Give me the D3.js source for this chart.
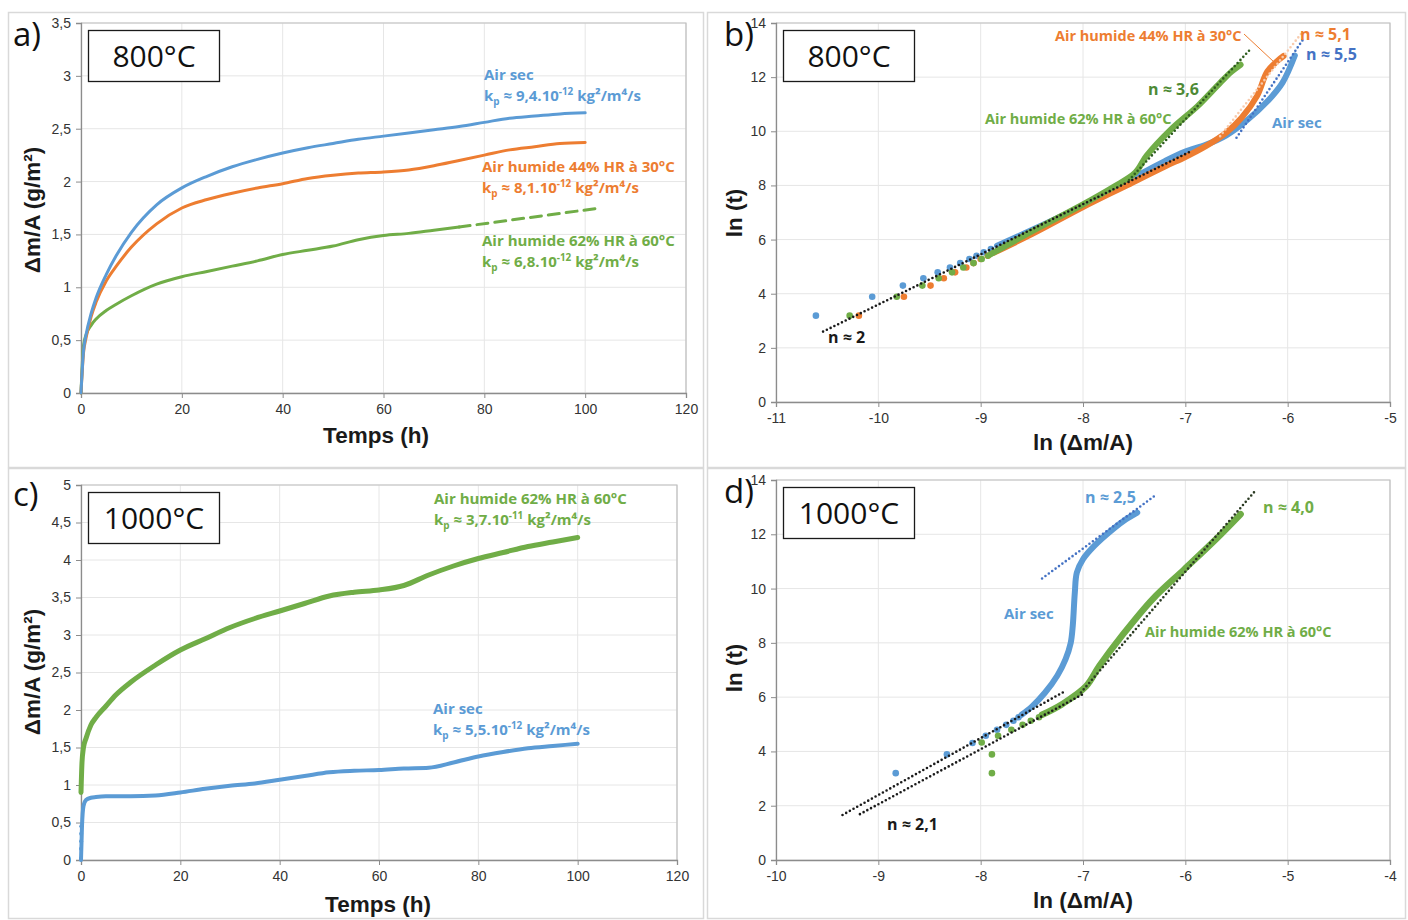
<!DOCTYPE html>
<html><head><meta charset="utf-8">
<script src="https://cdn.jsdelivr.net/npm/d3@7/dist/d3.min.js"></script>
<style>
html,body{margin:0;padding:0;background:#fff;}
svg{display:block;}
</style></head>
<body>
<svg id="chart" width="1408" height="920"></svg>
<script>
// ---------------- DATA ----------------
// Panel a) 800°C : mass gain vs time (h)
const aTime   = [0,0.5,1,2,3,5,7,10,15,20,25,30,35,40,45,50,55,60,65,70,75,80,85,90,95,100];
const aSec    = [0,0.40,0.55,0.75,0.90,1.12,1.30,1.52,1.78,1.94,2.05,2.14,2.21,2.27,2.32,2.36,2.40,2.43,2.46,2.49,2.52,2.56,2.60,2.62,2.64,2.65];
const aHum44  = [0,0.38,0.52,0.72,0.86,1.06,1.20,1.38,1.60,1.75,1.83,1.89,1.94,1.98,2.03,2.06,2.08,2.09,2.11,2.15,2.20,2.25,2.30,2.33,2.36,2.37];
const aTimeG  = [0,0.5,1,2,3,5,7,10,15,20,25,30,35,40,45,50,55,60,65,70,75];
const aHum62  = [0,0.45,0.55,0.64,0.70,0.78,0.84,0.92,1.03,1.10,1.15,1.20,1.25,1.31,1.35,1.39,1.45,1.49,1.51,1.54,1.57];
const aHum62Ext = [[75,1.57],[103,1.75]];

// Panel b) 800°C : ln(t) vs ln(Δm/A)  [x = ln(Δm/A), y = ln(t)]
const bSecDots  = [[-10.61,3.19],[-10.06,3.89],[-9.76,4.30],[-9.56,4.57],[-9.42,4.79],[-9.30,4.97],[-9.20,5.13],[-9.11,5.28],[-9.04,5.40],[-8.97,5.53],[-8.90,5.65]];
const bSecCurve = [[-8.84,5.77],[-8.5,6.35],[-8.0,7.25],[-7.6,8.05],[-7.4,8.5],[-7.2,8.9],[-7.0,9.25],[-6.8,9.5],[-6.6,9.85],[-6.4,10.4],[-6.2,11.1],[-6.05,11.8],[-5.93,12.8]];
const b44Dots   = [[-10.19,3.19],[-9.75,3.89],[-9.49,4.30],[-9.36,4.57],[-9.25,4.79],[-9.14,4.97],[-9.07,5.13],[-9.00,5.28],[-8.93,5.40]];
const b44Curve  = [[-8.88,5.5],[-8.5,6.2],[-8.0,7.2],[-7.6,7.95],[-7.2,8.7],[-7.0,9.05],[-6.8,9.45],[-6.6,9.95],[-6.45,10.5],[-6.3,11.3],[-6.2,12.2],[-6.1,12.6],[-6.04,12.78]];
const b62Dots   = [[-10.28,3.19],[-9.82,3.89],[-9.57,4.30],[-9.41,4.57],[-9.28,4.79],[-9.17,4.97],[-9.07,5.13],[-8.99,5.28]];
const b62Curve  = [[-8.93,5.4],[-8.5,6.3],[-8.0,7.3],[-7.7,7.95],[-7.49,8.47],[-7.38,9.09],[-7.14,10.07],[-6.88,10.93],[-6.66,11.79],[-6.55,12.2],[-6.46,12.46]];
const bFitN2    = [[-10.54,2.60],[-6.94,9.27]];
const bFitN36   = [[-7.55,8.2],[-6.36,13.05]];
const bFitN51   = [[-6.66,9.82],[-5.85,13.69]];
const bFitN55   = [[-6.50,9.76],[-5.85,13.39]];

// Panel c) 1000°C : mass gain vs time (h)
const cTime   = [0,0.2,0.5,1,2,3,5,7,10,15,20,25,30,35,40,45,50,55,60,65,70,75,80,85,90,95,100];
const cHum62  = [0.9,1.3,1.5,1.62,1.8,1.9,2.05,2.2,2.37,2.6,2.8,2.95,3.1,3.22,3.32,3.42,3.52,3.57,3.6,3.66,3.8,3.92,4.02,4.1,4.18,4.24,4.3];
const cSec    = [0,0.45,0.72,0.8,0.83,0.84,0.85,0.85,0.85,0.86,0.9,0.95,0.99,1.02,1.07,1.12,1.17,1.19,1.2,1.22,1.23,1.3,1.38,1.44,1.49,1.52,1.55];
const cSecStartDots = [[0,0.02],[0,0.15],[0.02,0.25],[0.03,0.35],[0.05,0.45]];

// Panel d) 1000°C : ln(t) vs ln(Δm/A)
const dSecDots  = [[-8.83,3.20],[-8.33,3.89],[-8.08,4.31],[-7.95,4.58],[-7.84,4.80],[-7.75,4.98],[-7.68,5.13],[-7.63,5.26]];
const dSecCurve = [[-7.6,5.35],[-7.5,5.65],[-7.37,6.17],[-7.25,6.8],[-7.17,7.40],[-7.12,8.0],[-7.10,8.63],[-7.08,9.85],[-7.06,10.59],[-7.0,11.08],[-6.89,11.57],[-6.71,12.18],[-6.58,12.55],[-6.47,12.8]];
const d62Dots   = [[-7.89,3.20],[-7.89,3.89],[-7.99,4.33],[-7.83,4.58],[-7.70,4.80],[-7.59,4.98],[-7.51,5.13],[-7.43,5.26]];
const d62Curve  = [[-7.4,5.35],[-7.2,5.75],[-6.97,6.4],[-6.84,7.15],[-6.62,8.26],[-6.32,9.61],[-6.01,10.71],[-5.70,11.82],[-5.46,12.74]];
const dFitN21a  = [[-9.35,1.66],[-7.17,6.23]];
const dFitN21b  = [[-9.18,1.69],[-7.0,6.11]];
const dFitN25   = [[-7.40,10.37],[-6.28,13.47]];
const dFitN40   = [[-7.02,6.17],[-5.31,13.63]];

// Tick values
const timeTicks = [0,20,40,60,80,100,120];
const aYTicks = [0,0.5,1,1.5,2,2.5,3,3.5];
const cYTicks = [0,0.5,1,1.5,2,2.5,3,3.5,4,4.5,5];
const lnTTicks = [0,2,4,6,8,10,12,14];
const bXTicks = [-11,-10,-9,-8,-7,-6,-5];
const dXTicks = [-10,-9,-8,-7,-6,-5,-4];

// ---------------- STYLE ----------------
const BLUE="#5B9BD5", ORANGE="#ED7D31", GREEN="#70AD47", DKGREEN="#4E8A35", DKBLUE="#4472C4";
const LBL = "'Open Sans', sans-serif";
const AX  = "'Liberation Sans', Arial, sans-serif";

const svg = d3.select("#chart");
const fmt = d => String(d).replace(".", ",");

// panel frames
[[8,12,695,455],[707,12,698,455],[8,468,695,450],[707,468,698,450]].forEach(r=>{
  svg.append("rect").attr("x",r[0]+0.5).attr("y",r[1]+0.5).attr("width",r[2]).attr("height",r[3])
    .attr("fill","none").attr("stroke","#d9d9d9").attr("stroke-width",1.5);
});

function makePanel(o){
  const x = d3.scaleLinear().domain(o.xd).range([o.x0,o.x1]);
  const y = d3.scaleLinear().domain(o.yd).range([o.y0,o.y1]);
  const g = svg.append("g");
  g.append("g").selectAll("line").data(o.yt).join("line")
    .attr("x1",o.x0).attr("x2",o.x1).attr("y1",d=>y(d)).attr("y2",d=>y(d))
    .attr("stroke","#e6e6e6").attr("stroke-width",1);
  g.append("g").selectAll("line").data(o.xt).join("line")
    .attr("y1",o.y0).attr("y2",o.y1).attr("x1",d=>x(d)).attr("x2",d=>x(d))
    .attr("stroke","#e6e6e6").attr("stroke-width",1);
  g.append("path").attr("d",`M${o.x0},${o.y1}H${o.x1}V${o.y0}`).attr("fill","none").attr("stroke","#bfbfbf").attr("stroke-width",1.2);
  const xa = g.append("g").attr("transform",`translate(0,${o.y0})`)
    .call(d3.axisBottom(x).tickValues(o.xt).tickFormat(fmt).tickSize(5).tickPadding(6));
  const ya = g.append("g").attr("transform",`translate(${o.x0},0)`)
    .call(d3.axisLeft(y).tickValues(o.yt).tickFormat(fmt).tickSize(5).tickPadding(5));
  [xa,ya].forEach(a=>{
    a.select(".domain").attr("stroke","#8c8c8c").attr("stroke-width",1.3);
    a.selectAll(".tick line").attr("stroke","#8c8c8c");
    a.selectAll(".tick text").attr("fill","#333").attr("font-family",AX).attr("font-size",14);
  });
  svg.append("text").attr("x",o.xtx).attr("y",o.xty).attr("text-anchor","middle")
    .attr("font-family",AX).attr("font-weight","bold").attr("font-size",22.5).attr("fill","#1a1a1a").text(o.xTitle);
  svg.append("text").attr("transform",`translate(${o.ytx},${o.yty}) rotate(-90)`).attr("text-anchor","middle")
    .attr("font-family",AX).attr("font-weight","bold").attr("font-size",22.5).attr("fill","#1a1a1a").text(o.yTitle);
  svg.append("rect").attr("x",o.x0+7.5).attr("y",o.y1+7.5).attr("width",131).attr("height",51)
    .attr("fill","#fff").attr("stroke","#1a1a1a").attr("stroke-width",1.3);
  svg.append("text").attr("x",o.x0+73).attr("y",o.y1+44).attr("text-anchor","middle")
    .attr("font-family",LBL).attr("font-size",30).attr("fill","#111").text(o.temp);
  svg.append("text").attr("x",o.lx).attr("y",o.ly).attr("font-family",LBL).attr("font-size",33).attr("fill","#111").text(o.letter);
  return {x,y,g};
}

function line(p, pts, color, w, dash){
  const l = d3.line().x(d=>p.x(d[0])).y(d=>p.y(d[1])).curve(d3.curveMonotoneX);
  const path = svg.append("path").datum(pts).attr("d",l).attr("fill","none")
    .attr("stroke",color).attr("stroke-width",w).attr("stroke-linejoin","round").attr("stroke-linecap","round");
  if(dash) path.attr("stroke-dasharray",dash);
  return path;
}
function band(p, pts, color, w){
  const l = d3.line().x(d=>p.x(d[0])).y(d=>p.y(d[1])).curve(d3.curveCatmullRom);
  svg.append("path").datum(pts).attr("d",l).attr("fill","none")
    .attr("stroke",color).attr("stroke-width",w).attr("stroke-linejoin","round").attr("stroke-linecap","round");
}
function dots(p, pts, color, r){
  svg.append("g").selectAll("circle").data(pts).join("circle")
    .attr("cx",d=>p.x(d[0])).attr("cy",d=>p.y(d[1])).attr("r",r).attr("fill",color);
}
function fit(p, pts, color){
  svg.append("path").datum(pts).attr("d",d3.line().x(d=>p.x(d[0])).y(d=>p.y(d[1])))
    .attr("fill","none").attr("stroke",color).attr("stroke-width",2.6)
    .attr("stroke-dasharray","0,4.2").attr("stroke-linecap","round");
}
// parts: strings = normal text, {t, sub} = sub/superscript
function label(x,y,color,parts,size){
  const fs = size||15;
  const t = svg.append("text").attr("x",x).attr("y",y).attr("font-family",LBL)
    .attr("font-weight",700).attr("font-size",fs).attr("fill",color);
  let shift = 0;
  parts.forEach(pt=>{
    if(typeof pt==="string"){
      t.append("tspan").attr("font-size",fs).attr("dy",-shift).text(pt);
      shift = 0;
    } else {
      const s = pt.sub ? 4 : -6;
      t.append("tspan").attr("font-size",fs*0.66).attr("dy",s-shift).text(pt.t);
      shift = s;
    }
  });
  return t;
}
function kp(x,y,color,val,exp){
  return label(x,y,color,["k",{t:"p",sub:true}," ≈ "+val+".10",{t:exp}," kg²/m⁴/s"]);
}

// ---------------- PANEL A ----------------
const pa = makePanel({xd:[0,120],yd:[0,3.5],x0:81,x1:686,y0:393,y1:23,xt:timeTicks,yt:aYTicks,
  xTitle:"Temps (h)",yTitle:"Δm/A (g/m²)",xtx:376,xty:443,ytx:40,yty:210,temp:"800°C",letter:"a)",lx:13,ly:46});
line(pa, aHum62.map((v,i)=>[aTimeG[i],v]), GREEN, 3);
line(pa, aHum62Ext, GREEN, 3, "11,7");
line(pa, aHum44.map((v,i)=>[aTime[i],v]), ORANGE, 3);
line(pa, aSec.map((v,i)=>[aTime[i],v]), BLUE, 3);
label(484,80,BLUE,["Air sec"]);
kp(484,101,BLUE,"9,4","-12");
label(482,172,ORANGE,["Air humide 44% HR à 30°C"]);
kp(482,193,ORANGE,"8,1","-12");
label(482,246,GREEN,["Air humide 62% HR à 60°C"]);
kp(482,267,GREEN,"6,8","-12");

// ---------------- PANEL B ----------------
const pb = makePanel({xd:[-11,-5],yd:[0,14],x0:776,x1:1390,y0:402,y1:23,xt:bXTicks,yt:lnTTicks,
  xTitle:"ln (Δm/A)",yTitle:"ln (t)",xtx:1083,xty:450,ytx:742,yty:213,temp:"800°C",letter:"b)",lx:724,ly:46});
band(pb, bSecCurve, BLUE, 6); dots(pb, bSecDots, BLUE, 3.3);
band(pb, b44Curve, ORANGE, 6); dots(pb, b44Dots, ORANGE, 3.3);
band(pb, b62Curve, GREEN, 6); dots(pb, b62Dots, GREEN, 3.3);
fit(pb, bFitN2, "#1a1a1a");
fit(pb, bFitN36, "#2f5e1f");
fit(pb, bFitN51, "#F8CBAD");
fit(pb, bFitN55, DKBLUE);
label(1055,41,ORANGE,["Air humide 44% HR à 30°C"],14.5);
svg.append("line").attr("x1",1244).attr("y1",34).attr("x2",1274).attr("y2",62).attr("stroke",ORANGE).attr("stroke-width",1);
label(1300,40,ORANGE,["n ≈ 5,1"],16);
label(1306,60,DKBLUE,["n ≈ 5,5"],16);
label(1272,128,BLUE,["Air sec"]);
label(1148,95,DKGREEN,["n ≈ 3,6"],16);
label(985,124,GREEN,["Air humide 62% HR à 60°C"],14.5);
label(828,343,"#1a1a1a",["n ≈ 2"],16);

// ---------------- PANEL C ----------------
const pc = makePanel({xd:[0,120],yd:[0,5],x0:81,x1:677,y0:860,y1:485,xt:timeTicks,yt:cYTicks,
  xTitle:"Temps (h)",yTitle:"Δm/A (g/m²)",xtx:378,xty:912,ytx:40,yty:672,temp:"1000°C",letter:"c)",lx:13,ly:506});
line(pc, cSec.map((v,i)=>[cTime[i],v]), BLUE, 4);
dots(pc, cSecStartDots, BLUE, 2);
line(pc, cHum62.map((v,i)=>[cTime[i],v]), GREEN, 5);
label(434,504,GREEN,["Air humide 62% HR à 60°C"]);
kp(434,525,GREEN,"3,7","-11");
label(433,714,BLUE,["Air sec"]);
kp(433,735,BLUE,"5,5","-12");

// ---------------- PANEL D ----------------
const pd = makePanel({xd:[-10,-4],yd:[0,14],x0:776,x1:1390,y0:860,y1:480,xt:dXTicks,yt:lnTTicks,
  xTitle:"ln (Δm/A)",yTitle:"ln (t)",xtx:1083,xty:908,ytx:742,yty:668,temp:"1000°C",letter:"d)",lx:724,ly:503});
band(pd, dSecCurve, BLUE, 6); dots(pd, dSecDots, BLUE, 3.3);
band(pd, d62Curve, GREEN, 6.5); dots(pd, d62Dots, GREEN, 3.3);
fit(pd, dFitN21a, "#1a1a1a");
fit(pd, dFitN21b, "#1a1a1a");
fit(pd, dFitN25, DKBLUE);
fit(pd, dFitN40, "#2a3a22");
label(1085,503,BLUE,["n ≈ 2,5"],16);
label(1263,513,GREEN,["n ≈ 4,0"],16);
label(1004,619,BLUE,["Air sec"]);
label(1145,637,GREEN,["Air humide 62% HR à 60°C"],14.5);
label(887,830,"#1a1a1a",["n ≈ 2,1"],16);
</script>
</body></html>
